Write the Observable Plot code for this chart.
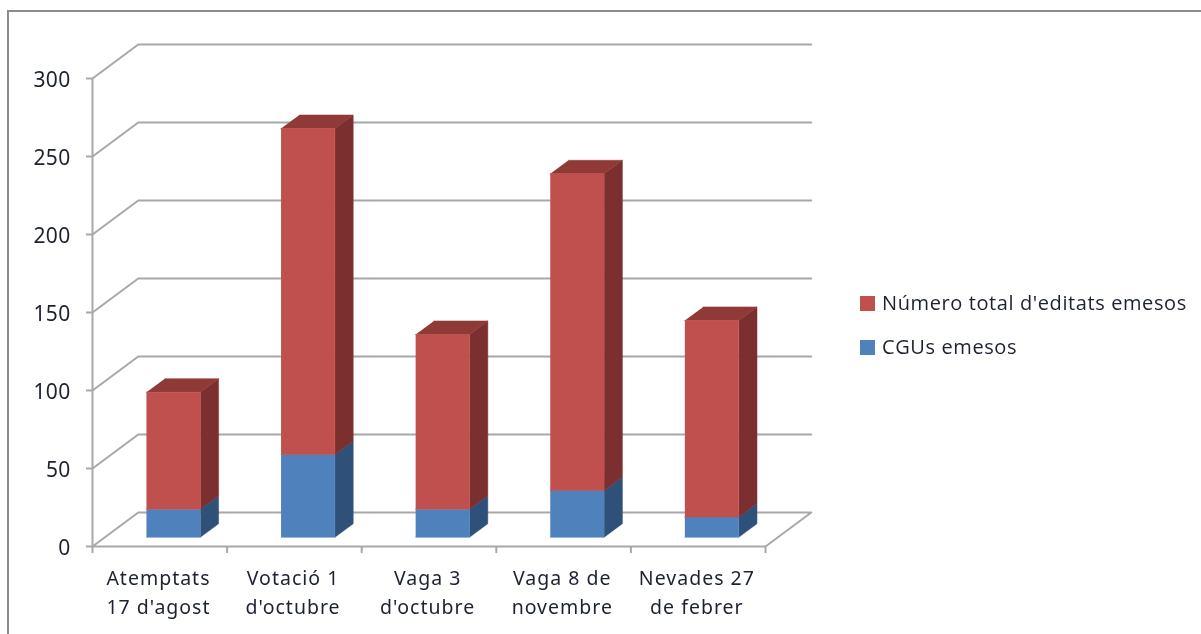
<!DOCTYPE html>
<html lang="ca">
<head>
<meta charset="utf-8">
<script src="https://cdn.jsdelivr.net/npm/d3@7"></script>
<script src="https://cdn.jsdelivr.net/npm/@observablehq/plot@0.6"></script>
<style>
html,body{margin:0;padding:0;background:#fff}
#wrap{position:relative;width:1201px;height:634px;overflow:hidden;font-family:"Open Sans",sans-serif;color:#1c2230;filter:blur(.4px)}
#frame{position:absolute;left:7px;top:10px;width:1300px;height:800px;border:2px solid #8c8c8c}
#chart{position:absolute;left:0;top:0}
#chart svg{display:block;background:transparent}
#chart .ylab{letter-spacing:.3px}
#chart .xlab{letter-spacing:1px}
.leg{position:absolute;left:860px;font-size:20px;line-height:20px;white-space:nowrap;letter-spacing:.6px}
.leg i{display:inline-block;width:15px;height:15px;margin-right:7px;vertical-align:-1px}
</style>
</head>
<body>
<div id="wrap">
<div id="frame"></div>
<div id="chart"></div>
<div class="leg" style="top:293px"><i style="background:#c0504d"></i>Número total d'editats emesos</div>
<div class="leg" style="top:337px"><i style="background:#4f81bd"></i>CGUs emesos</div>
</div>
<script>
const categories = ["Atemptats\n17 d'agost", "Votació 1\nd'octubre", "Vaga 3\nd'octubre", "Vaga 8 de\nnovembre", "Nevades 27\nde febrer"];
const cgus = [18, 53, 18, 30, 13];
const totals = [93, 262, 130, 233, 139];
const yTicks = [0, 50, 100, 150, 200, 250, 300];

// Oblique projection of the "3D" box, expressed in the scales' data units
const depthX = 0.34, depthY = 21.8;
const barFront = 0.27, barBack = 0.67, barHalf = 0.2, barShift = 0.509;
const n = categories.length;
const pt = (x, y, d, id) => ({x: x + depthX * d, y: y + depthY * d, id});

const wallLines = yTicks.flatMap(t => t === 0
  ? [pt(0, 0, 0, "f"), pt(n, 0, 0, "f"), pt(n, 0, 1, "f"), pt(0, 0, 1, "f"), pt(0, 0, 0, "f")]
  : [pt(0, t, 0, t), pt(0, t, 1, t), pt(n, t, 1, t)]);

function face(i, lo, hi, kind) {
  const a = i + barShift - barHalf, b = i + barShift + barHalf, id = kind + i + lo;
  if (kind === "front") return [pt(a, lo, barFront, id), pt(b, lo, barFront, id), pt(b, hi, barFront, id), pt(a, hi, barFront, id)];
  if (kind === "side") return [pt(b, lo, barFront, id), pt(b, lo, barBack, id), pt(b, hi, barBack, id), pt(b, hi, barFront, id)];
  return [pt(a, hi, barFront, id), pt(b, hi, barFront, id), pt(b, hi, barBack, id), pt(a, hi, barBack, id)];
}
const faces = (lows, highs, kind) => categories.flatMap((_, i) => face(i, lows[i], highs[i], kind));
const poly = (rows, fill) => Plot.line(rows, {x: "x", y: "y", z: "id", fill, stroke: fill, strokeWidth: 0.5});
const zeros = categories.map(() => 0);
const axisStyle = {stroke: "#a8a8a8", strokeWidth: 2};

const chart = Plot.plot({
  width: 1201, height: 634, margin: 0,
  x: {type: "linear", domain: [0, n], range: [92, 765], axis: null},
  y: {type: "linear", domain: [0, 300], range: [546, 78], axis: null},
  style: {background: "transparent"},
  marks: [
    Plot.line(wallLines, {x: "x", y: "y", z: "id", ...axisStyle}),
    poly(faces(zeros, cgus, "side"), "#2f5079"),
    poly(faces(zeros, cgus, "front"), "#4f81bd"),
    poly(faces(cgus, totals, "side"), "#7b2f2e"),
    poly(faces(cgus, totals, "top"), "#903a38"),
    poly(faces(cgus, totals, "front"), "#c0504d"),
    Plot.ruleX([0], {y1: 0, y2: 300, ...axisStyle}),
    Plot.ruleY(yTicks, {x1: -0.045, x2: 0, y: d => d, ...axisStyle}),
    Plot.ruleX(d3.range(n + 1), {x: d => d, y1: 0, y2: -4.5, ...axisStyle}),
    Plot.text(yTicks, {x: 0, y: d => d, text: d => String(d), textAnchor: "end", dx: -22, dy: 2, fontSize: 21, fill: "#1c2230", className: "ylab"}),
    Plot.text(categories, {x: (d, i) => i + 0.49, y: 0, text: d => d, lineAnchor: "top", dy: 18, lineHeight: 1.48, fontSize: 19.5, fill: "#1c2230", className: "xlab"})
  ]
});
document.getElementById("chart").append(chart);
</script>
</body>
</html>
